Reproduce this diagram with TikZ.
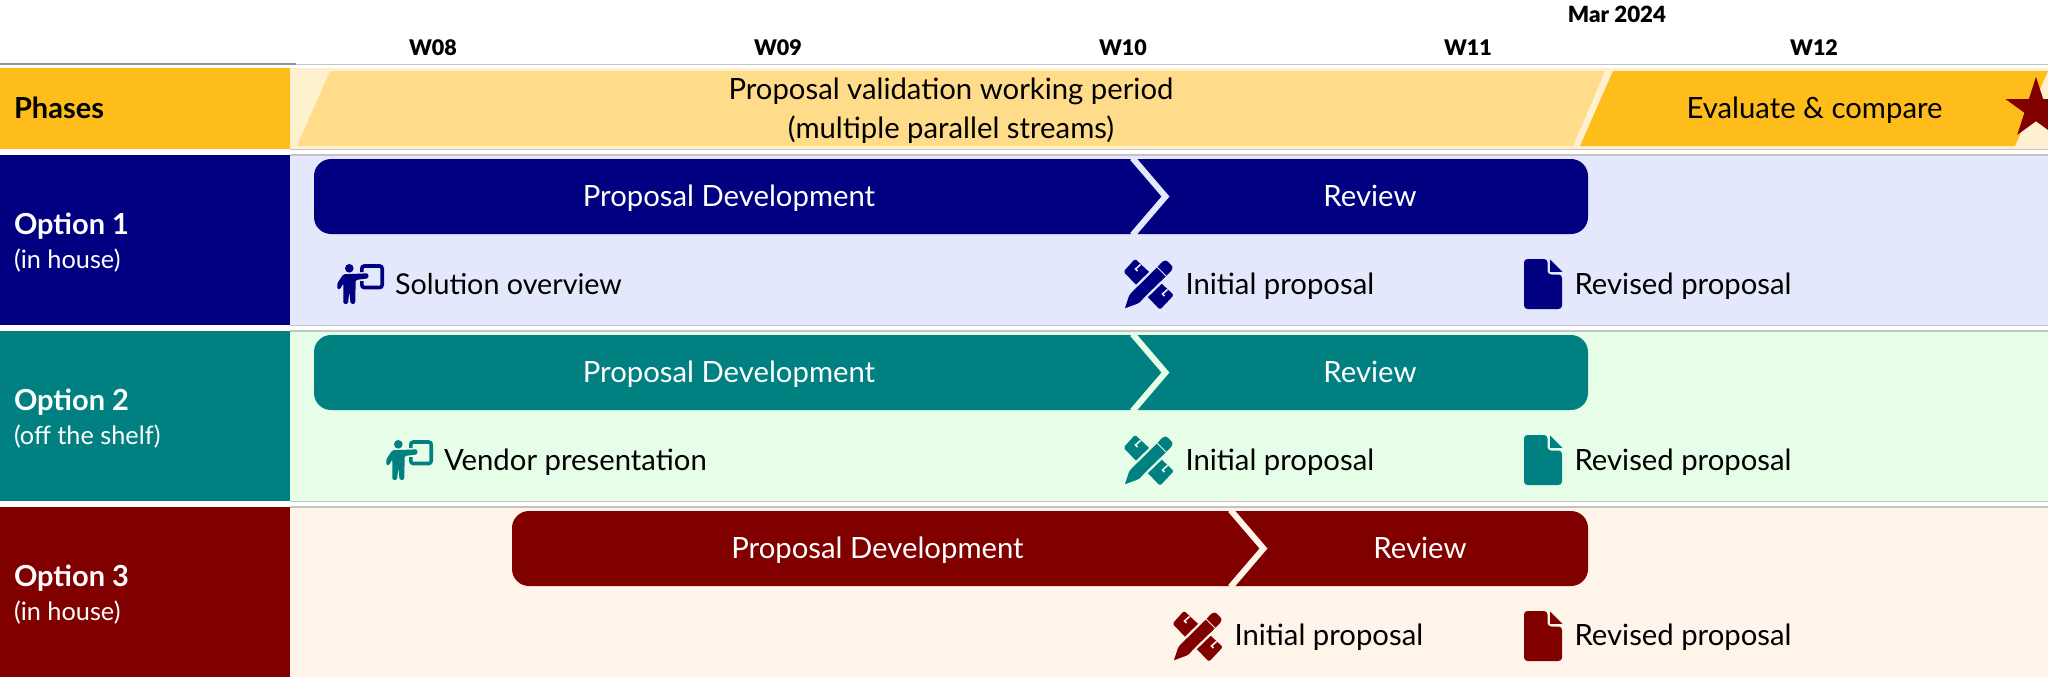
\documentclass[tikz,border=0pt]{standalone}
\usepackage{fontspec}
\setmainfont{Lato}
\newfontfamily\blackf{Lato Black}
\usetikzlibrary{shapes.geometric}
\definecolor{navyc}{HTML}{000080}
\definecolor{tealc}{HTML}{008080}
\definecolor{maroonc}{HTML}{800000}
\definecolor{goldc}{HTML}{FFBD1C}
\definecolor{goldl}{HTML}{FFDC8A}
\definecolor{creamc}{HTML}{FFF1CF}
\definecolor{tinta}{HTML}{E4E8FC}
\definecolor{tintb}{HTML}{E6FEE8}
\definecolor{tintc}{HTML}{FFF4EA}
\definecolor{rulec}{HTML}{C4C4C4}
\tikzset{
  txt/.style={anchor=base,inner sep=0pt,outer sep=0pt,font=\fontsize{29.3}{32}\selectfont,text=black},
  ltxt/.style={txt,anchor=base west},
  wlab/.style={txt,font=\fontsize{21.5}{24}\selectfont\blackf},
  head/.style={ltxt,font=\fontsize{29}{32}\selectfont\bfseries},
  sub/.style={ltxt,font=\fontsize{25.3}{28}\selectfont,text=white},
  bartxt/.style={txt,text=white},
  barbox/.style={anchor=north west,inner sep=0pt,outer sep=0pt,rounded corners=17pt,minimum height=75pt},
  rowline/.style={rulec,line width=1.2pt},
  pics/presenter/.style={code={
    \fill[#1] (12.3,4.3) circle (4.3);
    \fill[#1,rounded corners=1.3pt] (0.3,25.3) -- (0.3,19.3) -- (6.3,10.3) -- (31.3,9.3) -- (31.3,14.3) -- (18.7,16) -- (18.2,39.8) -- (13.6,39.8) -- (12.3,27.7) -- (11,39.8) -- (6.4,39.8) -- (6.3,19.3) -- (3,25.3) -- cycle;
    \draw[#1,line width=3.6pt,rounded corners=2.5pt] (24.8,8) -- (24.8,2) -- (45.2,2) -- (45.2,23.5) -- (24.8,23.5) -- (24.8,17);
  }},
  pics/tools/.style n args={2}{code={
    \fill[#1,rounded corners=1.5pt] (0.5,12.7) -- (12,-0.2) -- (50.8,36) -- (37,50.8) -- cycle;
    \draw[#2,line width=1.6pt] (17.5,5.5) -- (12.5,10) -- (14.5,12);
    \draw[#2,line width=1.6pt] (44.5,30.5) -- (39.5,35) -- (41.5,37);
    \fill[#1,rounded corners=2.5pt,draw=#2,line width=2.2pt] (0,51.3) -- (5.3,35) -- (33.7,7) -- (39,1) -- (44,0) -- (51,7) -- (50,12) -- (45,17) -- (23,38.3) -- (17,45) -- cycle;
    \draw[#2,line width=0.8pt] (33.5,7.5) -- (43.5,17.5);
  }},
  pics/docicon/.style={code={
    \fill[#1,rounded corners=3.5pt] (0,0) -- (23.5,0) -- (23.5,15.5) -- (38,15.5) -- (38,50) -- (0,50) -- cycle;
    \fill[#1] (26,0.3) -- (38.3,12.8) -- (26,12.8) -- cycle;
  }},
}
\begin{document}
\begin{tikzpicture}[x=1pt,y=-1pt]
\useasboundingbox (0,0) rectangle (2048,688);
\clip (0,0) rectangle (2048,688);
% header
\draw[rulec,line width=1.2pt] (296,64.5) -- (2048,64.5);
\draw[gray!85,line width=1.4pt] (0,64) -- (296,64);
\node[wlab] (w08) at (433,55) {W08};
\node[wlab] (w09) at (778,55) {W09};
\node[wlab] (w10) at (1123,55) {W10};
\node[wlab] (w11) at (1468,55) {W11};
\node[wlab] (w12) at (1814,55) {W12};
\node[wlab,font=\fontsize{22.3}{24}\selectfont\blackf] (mar) at (1617,23) {Mar 2024};
% row backgrounds
\fill[creamc] (290,67.7) rectangle (2048,149);
\fill[tinta] (290,155) rectangle (2048,325);
\fill[tintb] (290,331) rectangle (2048,501);
\fill[tintc] (290,507) rectangle (2048,677);
\foreach \yy in {149.3,155,325.3,331,501.3,507}{\draw[rowline] (290,\yy) -- (2048,\yy);}
\fill[goldc] (0,67.7) rectangle (290,149);
\fill[navyc] (0,155) rectangle (290,325);
\fill[tealc] (0,331) rectangle (290,501);
\fill[maroonc] (0,507) rectangle (290,677);
% phases band
\fill[goldl] (330,71) -- (1605,71) -- (1573,146) -- (297,146) -- cycle;
\fill[goldc] (1613,71) -- (2048,71) -- (2015,146) -- (1580,146) -- cycle;
\node[star,star points=5,star point ratio=2.618,minimum size=64pt,inner sep=0pt,fill=maroonc] (milestone) at (2036,109) {};
\node[txt] (ph1) at (951,99) {Proposal validation working period};
\node[txt] (ph2) at (951,138) {(multiple parallel streams)};
\node[txt] (ph3) at (1814.5,118) {Evaluate \& compare};
% left labels
\node[head] (phases) at (14,118) {Phases};
\node[head,text=white] (op1) at (14,234) {Option 1};
\node[sub] (op1s) at (14,268) {(in house)};
\node[head,text=white] (op2) at (14,410) {Option 2};
\node[sub] (op2s) at (14,444) {(off the shelf)};
\node[head,text=white] (op3) at (14,586) {Option 3};
\node[sub] (op3s) at (14,620) {(in house)};
% bars
\node[barbox,fill=navyc,minimum width=1274pt] (bar1) at (314,159) {};
\node[barbox,fill=tealc,minimum width=1274pt] (bar2) at (314,335) {};
\node[barbox,fill=maroonc,minimum width=1076pt] (bar3) at (512,511) {};
\draw[tinta,line width=6pt,miter limit=10] (1132.5,158) -- (1165.5,196.5) -- (1132.5,235);
\draw[tintb,line width=6pt,miter limit=10] (1132.5,334) -- (1165.5,372.5) -- (1132.5,411);
\draw[tintc,line width=6pt,miter limit=10] (1230.5,510) -- (1263.5,548.5) -- (1230.5,587);
\node[bartxt] (pd1) at (729,206.5) {Proposal Development};
\node[bartxt] (rv1) at (1370,206.5) {Review};
\node[bartxt] (pd2) at (729,382.5) {Proposal Development};
\node[bartxt] (rv2) at (1370,382.5) {Review};
\node[bartxt] (pd3) at (877.5,558.5) {Proposal Development};
\node[bartxt] (rv3) at (1420,558.5) {Review};
% icons
\pic at (337,264) {presenter=navyc};
\pic at (386,440) {presenter=tealc};
\pic at (1123,259) {tools={navyc}{tinta}};
\pic at (1123,435) {tools={tealc}{tintb}};
\pic at (1172,611) {tools={maroonc}{tintc}};
\pic at (1524,259) {docicon=navyc};
\pic at (1524,435) {docicon=tealc};
\pic at (1524,611) {docicon=maroonc};
% milestone labels
\node[ltxt,font=\fontsize{28.7}{32}\selectfont] (m1) at (395,294) {Solution overview};
\node[ltxt] (m2) at (1185.5,294.5) {Initial proposal};
\node[ltxt] (m3) at (1574.5,294.5) {Revised proposal};
\node[ltxt] (m4) at (444,470.5) {Vendor presentation};
\node[ltxt] (m5) at (1185.5,470.5) {Initial proposal};
\node[ltxt] (m6) at (1574.5,470.5) {Revised proposal};
\node[ltxt] (m7) at (1234.5,645.5) {Initial proposal};
\node[ltxt] (m8) at (1574.5,645.5) {Revised proposal};
\end{tikzpicture}
\end{document}
